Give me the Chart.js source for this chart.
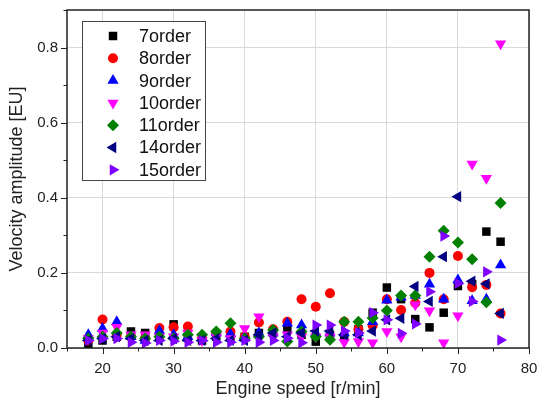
<!DOCTYPE html>
<html lang="en">
<head>
<meta charset="UTF-8" />
<title>Velocity amplitude vs engine speed</title>
<script src="https://cdn.jsdelivr.net/npm/chart.js"></script>
<style>
  html, body { margin: 0; padding: 0; background: #fff; }
  .wrap { width: 537px; height: 407px; position: relative; }
</style>
</head>
<body>
<div class="wrap"><canvas id="chart"></canvas></div>
<script>
// engine speed [r/min], one sample every 2 r/min
const speeds = [18, 20, 22, 24, 26, 28, 30, 32, 34, 36, 38, 40, 42, 44, 46, 48, 50, 52, 54, 56, 58, 60, 62, 64, 66, 68, 70, 72, 74, 76];

// velocity amplitude [EU] per order
const order7  = [0.008, 0.020, 0.030, 0.044, 0.040, 0.030, 0.063, 0.030, 0.020, 0.030, 0.030, 0.030, 0.040, 0.040, 0.048, 0.035, 0.017, 0.035, 0.030, 0.050, 0.094, 0.161, 0.130, 0.077, 0.055, 0.094, 0.165, 0.170, 0.310, 0.283];
const order8  = [0.020, 0.076, 0.035, 0.030, 0.025, 0.053, 0.055, 0.057, 0.025, 0.040, 0.044, 0.030, 0.068, 0.050, 0.070, 0.130, 0.110, 0.146, 0.070, 0.050, 0.060, 0.130, 0.101, 0.120, 0.200, 0.130, 0.245, 0.162, 0.168, 0.092];
const order9  = [0.035, 0.052, 0.070, 0.030, 0.020, 0.046, 0.035, 0.030, 0.025, 0.040, 0.037, 0.030, 0.040, 0.040, 0.066, 0.061, 0.040, 0.040, 0.040, 0.040, 0.070, 0.127, 0.135, 0.140, 0.170, 0.130, 0.181, 0.126, 0.130, 0.221];
const order10 = [0.025, 0.040, 0.055, 0.035, 0.035, 0.030, 0.030, 0.040, 0.020, 0.030, 0.025, 0.052, 0.083, 0.030, 0.035, 0.030, 0.030, 0.030, 0.015, 0.017, 0.014, 0.044, 0.030, 0.115, 0.099, 0.014, 0.086, 0.490, 0.452, 0.810];
const order11 = [0.025, 0.030, 0.040, 0.030, 0.025, 0.030, 0.025, 0.035, 0.035, 0.044, 0.066, 0.025, 0.030, 0.048, 0.017, 0.044, 0.030, 0.022, 0.070, 0.070, 0.080, 0.100, 0.140, 0.140, 0.243, 0.312, 0.281, 0.236, 0.122, 0.386];
const order14 = [0.020, 0.025, 0.030, 0.025, 0.020, 0.020, 0.025, 0.020, 0.020, 0.025, 0.020, 0.020, 0.035, 0.040, 0.030, 0.040, 0.045, 0.045, 0.035, 0.035, 0.045, 0.075, 0.079, 0.164, 0.124, 0.243, 0.403, 0.178, 0.171, 0.092];
const order15 = [0.020, 0.025, 0.025, 0.015, 0.013, 0.020, 0.018, 0.015, 0.020, 0.015, 0.015, 0.020, 0.015, 0.020, 0.026, 0.014, 0.061, 0.061, 0.045, 0.040, 0.094, 0.075, 0.039, 0.064, 0.150, 0.298, 0.172, 0.124, 0.203, 0.021];

const FONT = 'Arial, "Liberation Sans", sans-serif';

const series = [
  { label: '7order',  values: order7,  color: '#000000', style: 'rect',     rot: 0,   r: 6 },
  { label: '8order',  values: order8,  color: '#ff0000', style: 'circle',   rot: 0,   r: 5 },
  { label: '9order',  values: order9,  color: '#0000ff', style: 'triangle', rot: 0,   r: 6.5 },
  { label: '10order', values: order10, color: '#ff00ff', style: 'triangle', rot: 180, r: 6.5 },
  { label: '11order', values: order11, color: '#008000', style: 'rectRot',  rot: 0,   r: 6 },
  { label: '14order', values: order14, color: '#000080', style: 'triangle', rot: 270, r: 6.5 },
  { label: '15order', values: order15, color: '#8000ff', style: 'triangle', rot: 90,  r: 6.5 }
];

const datasets = series.map((s, i) => ({
  label: s.label,
  data: speeds.map((x, j) => ({ x: x, y: s.values[j] })),
  backgroundColor: s.color,
  borderColor: s.color,
  borderWidth: 0,
  pointStyle: s.style,
  pointRotation: s.rot,
  pointRadius: s.r,
  order: 10 - i   // later orders drawn on top, like the original
}));

// frame, tick marks (major + minor) and the boxed legend inside the plot
const decor = {
  id: 'decor',
  afterDraw(chart) {
    const ctx = chart.ctx;
    const a = chart.chartArea;
    const xs = chart.scales.x, ys = chart.scales.y;
    ctx.save();
    ctx.strokeStyle = '#222';
    ctx.lineWidth = 1.5;
    ctx.strokeRect(a.left, a.top, a.right - a.left, a.bottom - a.top);

    ctx.lineWidth = 1;
    ctx.beginPath();
    for (let v = 15; v <= 80; v += 5) {
      const px = Math.round(xs.getPixelForValue(v)) + 0.5;
      const len = v % 10 === 0 ? 6 : 3.5;
      ctx.moveTo(px, a.bottom);
      ctx.lineTo(px, a.bottom + len);
    }
    for (let k = 0; k <= 9; k++) {
      const py = Math.round(ys.getPixelForValue(k / 10)) + 0.5;
      const len = k % 2 === 0 ? 6 : 3.5;
      ctx.moveTo(a.left, py);
      ctx.lineTo(a.left - len, py);
    }
    ctx.stroke();

    // legend
    const bx = a.left + 15, by = a.top + 11, bw = 123, bh = 159;
    ctx.fillStyle = '#fff';
    ctx.fillRect(bx, by, bw, bh);
    ctx.strokeStyle = '#444';
    ctx.lineWidth = 1;
    ctx.strokeRect(bx + 0.5, by + 0.5, bw, bh);
    ctx.font = '18px ' + FONT;
    ctx.textBaseline = 'middle';
    ctx.textAlign = 'left';
    series.forEach((s, i) => {
      const cy = by + 15 + i * 22.3;
      ctx.fillStyle = s.color;
      Chart.helpers.drawPoint(ctx, {
        pointStyle: s.style, rotation: s.rot, radius: s.r, borderWidth: 0
      }, bx + 31, cy);
      ctx.fillStyle = '#111';
      ctx.fillText(s.label, bx + 57, cy + 1);
    });
    ctx.restore();
  }
};

new Chart(document.getElementById('chart'), {
  type: 'scatter',
  data: { datasets: datasets },
  options: {
    responsive: true,
    maintainAspectRatio: false,
    animation: false,
    layout: { padding: { left: 0, right: 8, top: 10, bottom: 0 } },
    plugins: {
      legend: { display: false },
      tooltip: { enabled: false }
    },
    scales: {
      x: {
        type: 'linear',
        min: 15, max: 80,
        afterFit: s => { s.height = 59; s.paddingLeft = 0; s.paddingRight = 0; },
        border: { display: false },
        grid: {
          drawTicks: false,
          color: c => (c.tick && c.tick.value % 10 === 0 ? '#d9d9d9' : 'rgba(0,0,0,0)')
        },
        ticks: {
          stepSize: 5,
          padding: 12,
          color: '#222',
          font: { family: FONT, size: 15 },
          maxRotation: 0,
          callback: v => (v % 10 === 0 ? String(v) : '')
        },
        title: {
          display: true,
          text: 'Engine speed [r/min]',
          color: '#222',
          font: { family: FONT, size: 18 },
          padding: { top: 0, bottom: 7 }
        }
      },
      y: {
        type: 'linear',
        min: 0, max: 0.9,
        afterFit: s => { s.width = 67; s.paddingTop = 0; s.paddingBottom = 0; },
        border: { display: false },
        grid: {
          drawTicks: false,
          color: c => (c.tick && Math.round(c.tick.value * 10) % 2 === 0 ? '#d9d9d9' : 'rgba(0,0,0,0)')
        },
        ticks: {
          stepSize: 0.1,
          padding: 9,
          color: '#222',
          font: { family: FONT, size: 15 },
          callback: v => (Math.round(v * 10) % 2 === 0 ? v.toFixed(1) : '')
        },
        title: {
          display: true,
          text: 'Velocity amplitude [EU]',
          color: '#222',
          font: { family: FONT, size: 18 },
          padding: { top: 6, bottom: 0 }
        }
      }
    }
  },
  plugins: [decor]
});
</script>
</body>
</html>
